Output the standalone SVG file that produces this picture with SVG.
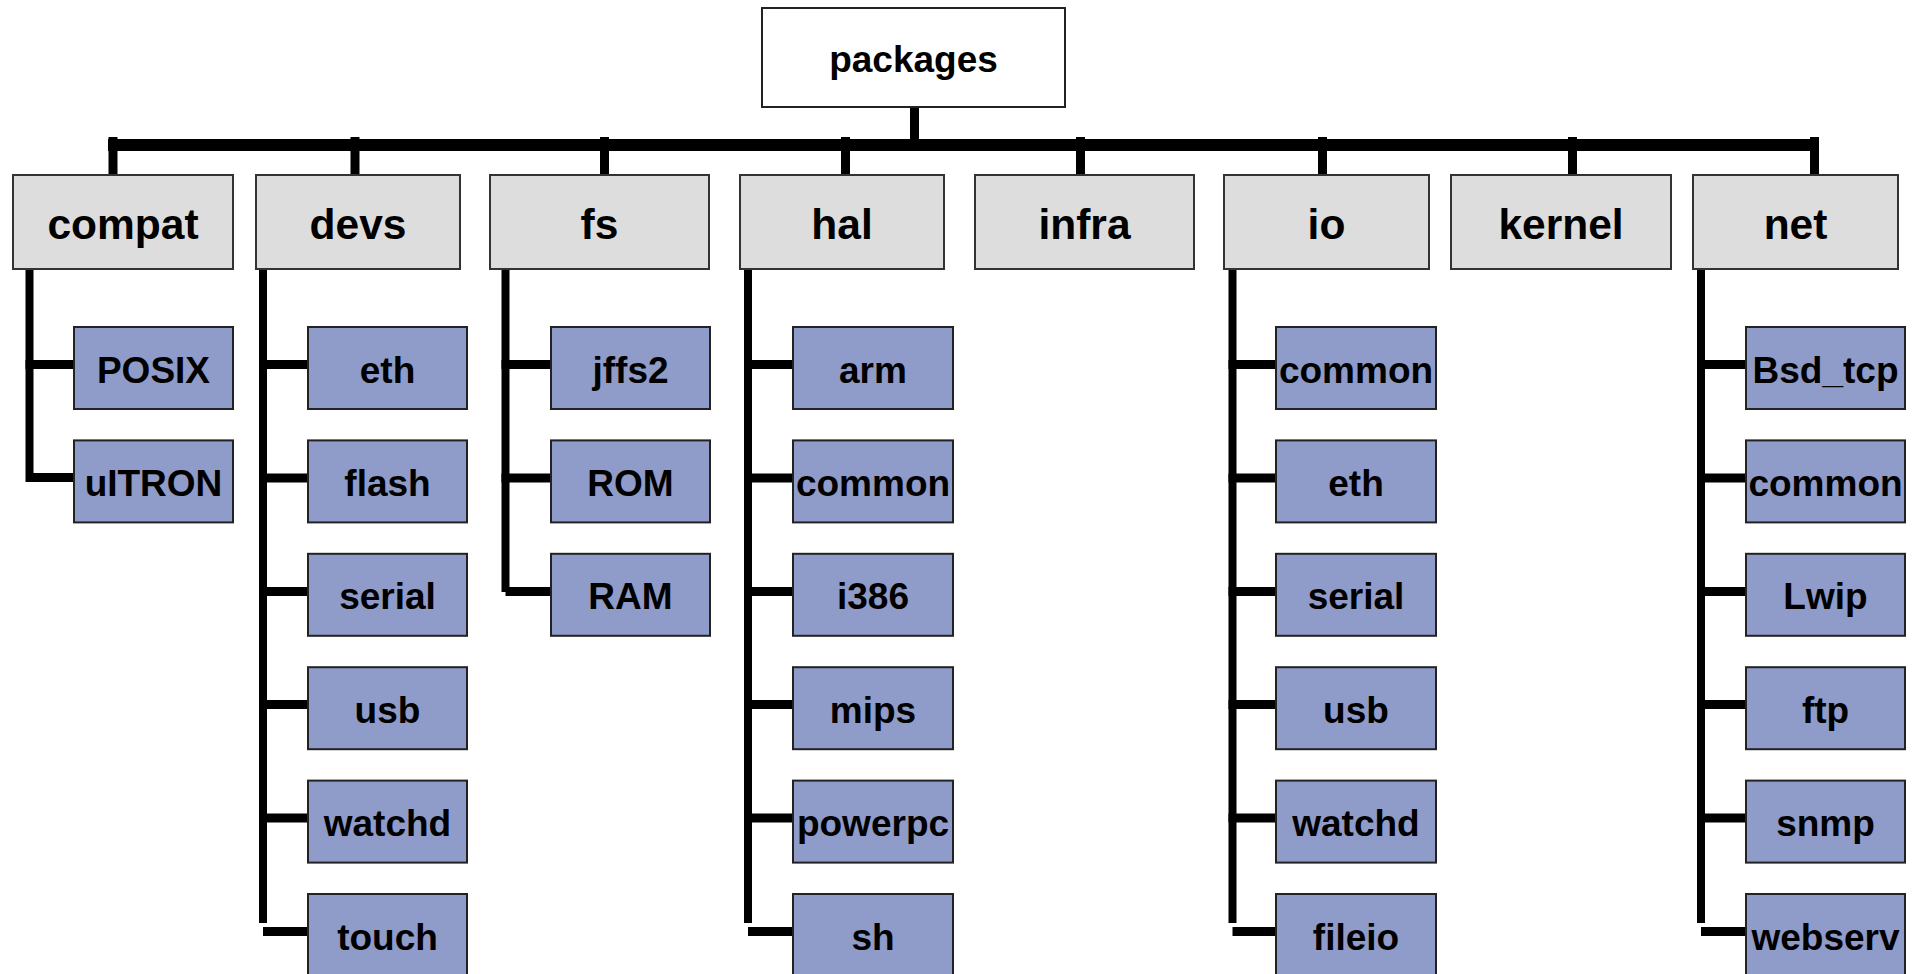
<svg xmlns="http://www.w3.org/2000/svg" width="1916" height="974" viewBox="0 0 1916 974">
  <style>
    text { font-family: "Liberation Sans", Arial, sans-serif; font-weight: bold; fill: #000; text-anchor: middle; }
    .root { fill: #ffffff; stroke: #222; stroke-width: 2; }
    .pkg { fill: #dddddd; stroke: #333; stroke-width: 2; }
    .sub { fill: #8f9bc8; stroke: #222; stroke-width: 2; }
    .lbl-root { font-size: 37px; }
    .lbl-pkg { font-size: 42.5px; }
    .lbl-sub { font-size: 37px; }
    .wire { fill: #000; }
  </style>

  <!-- connectors: bus, drops and branches -->
  <g id="connectors" class="wire">
    <!-- stem from root and horizontal bus -->
    <rect x="910" y="106" width="9" height="34"/>
    <rect x="108" y="139" width="1711" height="12"/>
    <!-- drops to top-level packages -->
    <rect x="108.5" y="137" width="9" height="38"/>
    <rect x="350.5" y="137" width="9" height="38"/>
    <rect x="600" y="137" width="9" height="38"/>
    <rect x="841" y="137" width="9" height="38"/>
    <rect x="1076" y="137" width="9" height="38"/>
    <rect x="1318" y="137" width="9" height="38"/>
    <rect x="1568" y="137" width="9" height="38"/>
    <rect x="1810" y="137" width="9" height="38"/>

    <!-- compat trunk + branches -->
    <rect x="25.5" y="266" width="8" height="216"/>
    <rect x="25.5" y="360" width="49" height="9"/>
    <rect x="29" y="473" width="45.5" height="9"/>

    <!-- devs trunk + branches -->
    <rect x="259" y="266" width="8" height="657"/>
    <rect x="259" y="360" width="49" height="9"/>
    <rect x="259" y="473.5" width="49" height="9"/>
    <rect x="259" y="587" width="49" height="9"/>
    <rect x="259" y="700" width="49" height="9"/>
    <rect x="259" y="813.5" width="49" height="9"/>
    <rect x="263" y="927" width="45" height="9"/>

    <!-- fs trunk + branches -->
    <rect x="501.5" y="266" width="8" height="326"/>
    <rect x="501.5" y="360" width="49.5" height="9"/>
    <rect x="501.5" y="473.5" width="49.5" height="9"/>
    <rect x="505.5" y="587" width="45.5" height="9"/>

    <!-- hal trunk + branches -->
    <rect x="744" y="266" width="8" height="657"/>
    <rect x="744" y="360" width="49" height="9"/>
    <rect x="744" y="473.5" width="49" height="9"/>
    <rect x="744" y="587" width="49" height="9"/>
    <rect x="744" y="700" width="49" height="9"/>
    <rect x="744" y="813.5" width="49" height="9"/>
    <rect x="748" y="927" width="45" height="9"/>

    <!-- io trunk + branches -->
    <rect x="1228.5" y="266" width="8" height="657"/>
    <rect x="1228.5" y="360" width="48" height="9"/>
    <rect x="1228.5" y="473.5" width="48" height="9"/>
    <rect x="1228.5" y="587" width="48" height="9"/>
    <rect x="1228.5" y="700" width="48" height="9"/>
    <rect x="1228.5" y="813.5" width="48" height="9"/>
    <rect x="1232.5" y="927" width="44" height="9"/>

    <!-- net trunk + branches -->
    <rect x="1697" y="266" width="8" height="657"/>
    <rect x="1697" y="360" width="49" height="9"/>
    <rect x="1697" y="473.5" width="49" height="9"/>
    <rect x="1697" y="587" width="49" height="9"/>
    <rect x="1697" y="700" width="49" height="9"/>
    <rect x="1697" y="813.5" width="49" height="9"/>
    <rect x="1701" y="927" width="45" height="9"/>
  </g>

  <!-- root -->
  <g id="packages">
    <rect class="root" x="762" y="8" width="303" height="99"/>
    <text class="lbl-root" x="913.5" y="71.5">packages</text>
  </g>

  <!-- top-level packages -->
  <g id="compat">
    <rect class="pkg" x="13" y="175" width="220" height="94"/>
    <text class="lbl-pkg" x="123" y="238.5">compat</text>
  </g>
  <g id="devs">
    <rect class="pkg" x="256" y="175" width="204" height="94"/>
    <text class="lbl-pkg" x="358" y="238.5">devs</text>
  </g>
  <g id="fs">
    <rect class="pkg" x="490" y="175" width="219" height="94"/>
    <text class="lbl-pkg" x="599.5" y="238.5">fs</text>
  </g>
  <g id="hal">
    <rect class="pkg" x="740" y="175" width="204" height="94"/>
    <text class="lbl-pkg" x="842" y="238.5">hal</text>
  </g>
  <g id="infra">
    <rect class="pkg" x="975" y="175" width="219" height="94"/>
    <text class="lbl-pkg" x="1084.5" y="238.5">infra</text>
  </g>
  <g id="io">
    <rect class="pkg" x="1224" y="175" width="205" height="94"/>
    <text class="lbl-pkg" x="1326.5" y="238.5">io</text>
  </g>
  <g id="kernel">
    <rect class="pkg" x="1451" y="175" width="220" height="94"/>
    <text class="lbl-pkg" x="1561" y="238.5">kernel</text>
  </g>
  <g id="net">
    <rect class="pkg" x="1693" y="175" width="205" height="94"/>
    <text class="lbl-pkg" x="1795.5" y="238.5">net</text>
  </g>

  <!-- compat children -->
  <g id="compat-posix">
    <rect class="sub" x="74" y="327" width="159" height="82"/>
    <text class="lbl-sub" x="153.5" y="382.5">POSIX</text>
  </g>
  <g id="compat-ultron">
    <rect class="sub" x="74" y="440.4" width="159" height="82"/>
    <text class="lbl-sub" x="153.5" y="495.9">uITRON</text>
  </g>

  <!-- devs children -->
  <g id="devs-eth">
    <rect class="sub" x="308" y="327" width="159" height="82"/>
    <text class="lbl-sub" x="387.5" y="382.5">eth</text>
  </g>
  <g id="devs-flash">
    <rect class="sub" x="308" y="440.4" width="159" height="82"/>
    <text class="lbl-sub" x="387.5" y="495.9">flash</text>
  </g>
  <g id="devs-serial">
    <rect class="sub" x="308" y="553.8" width="159" height="82"/>
    <text class="lbl-sub" x="387.5" y="609.3">serial</text>
  </g>
  <g id="devs-usb">
    <rect class="sub" x="308" y="667.2" width="159" height="82"/>
    <text class="lbl-sub" x="387.5" y="722.7">usb</text>
  </g>
  <g id="devs-watchd">
    <rect class="sub" x="308" y="780.6" width="159" height="82"/>
    <text class="lbl-sub" x="387.5" y="836.1">watchd</text>
  </g>
  <g id="devs-touch">
    <rect class="sub" x="308" y="894" width="159" height="82"/>
    <text class="lbl-sub" x="387.5" y="949.5">touch</text>
  </g>

  <!-- fs children -->
  <g id="fs-jffs2">
    <rect class="sub" x="551" y="327" width="159" height="82"/>
    <text class="lbl-sub" x="630.5" y="382.5">jffs2</text>
  </g>
  <g id="fs-rom">
    <rect class="sub" x="551" y="440.4" width="159" height="82"/>
    <text class="lbl-sub" x="630.5" y="495.9">ROM</text>
  </g>
  <g id="fs-ram">
    <rect class="sub" x="551" y="553.8" width="159" height="82"/>
    <text class="lbl-sub" x="630.5" y="609.3">RAM</text>
  </g>

  <!-- hal children -->
  <g id="hal-arm">
    <rect class="sub" x="793" y="327" width="160" height="82"/>
    <text class="lbl-sub" x="873" y="382.5">arm</text>
  </g>
  <g id="hal-common">
    <rect class="sub" x="793" y="440.4" width="160" height="82"/>
    <text class="lbl-sub" x="873" y="495.9">common</text>
  </g>
  <g id="hal-i386">
    <rect class="sub" x="793" y="553.8" width="160" height="82"/>
    <text class="lbl-sub" x="873" y="609.3">i386</text>
  </g>
  <g id="hal-mips">
    <rect class="sub" x="793" y="667.2" width="160" height="82"/>
    <text class="lbl-sub" x="873" y="722.7">mips</text>
  </g>
  <g id="hal-powerpc">
    <rect class="sub" x="793" y="780.6" width="160" height="82"/>
    <text class="lbl-sub" x="873" y="836.1">powerpc</text>
  </g>
  <g id="hal-sh">
    <rect class="sub" x="793" y="894" width="160" height="82"/>
    <text class="lbl-sub" x="873" y="949.5">sh</text>
  </g>

  <!-- io children -->
  <g id="io-common">
    <rect class="sub" x="1276" y="327" width="160" height="82"/>
    <text class="lbl-sub" x="1356" y="382.5">common</text>
  </g>
  <g id="io-eth">
    <rect class="sub" x="1276" y="440.4" width="160" height="82"/>
    <text class="lbl-sub" x="1356" y="495.9">eth</text>
  </g>
  <g id="io-serial">
    <rect class="sub" x="1276" y="553.8" width="160" height="82"/>
    <text class="lbl-sub" x="1356" y="609.3">serial</text>
  </g>
  <g id="io-usb">
    <rect class="sub" x="1276" y="667.2" width="160" height="82"/>
    <text class="lbl-sub" x="1356" y="722.7">usb</text>
  </g>
  <g id="io-watchd">
    <rect class="sub" x="1276" y="780.6" width="160" height="82"/>
    <text class="lbl-sub" x="1356" y="836.1">watchd</text>
  </g>
  <g id="io-fileio">
    <rect class="sub" x="1276" y="894" width="160" height="82"/>
    <text class="lbl-sub" x="1356" y="949.5">fileio</text>
  </g>

  <!-- net children -->
  <g id="net-bsd-tcp">
    <rect class="sub" x="1746" y="327" width="159" height="82"/>
    <text class="lbl-sub" x="1825.5" y="382.5">Bsd_tcp</text>
  </g>
  <g id="net-common">
    <rect class="sub" x="1746" y="440.4" width="159" height="82"/>
    <text class="lbl-sub" x="1825.5" y="495.9">common</text>
  </g>
  <g id="net-lwip">
    <rect class="sub" x="1746" y="553.8" width="159" height="82"/>
    <text class="lbl-sub" x="1825.5" y="609.3">Lwip</text>
  </g>
  <g id="net-ftp">
    <rect class="sub" x="1746" y="667.2" width="159" height="82"/>
    <text class="lbl-sub" x="1825.5" y="722.7">ftp</text>
  </g>
  <g id="net-snmp">
    <rect class="sub" x="1746" y="780.6" width="159" height="82"/>
    <text class="lbl-sub" x="1825.5" y="836.1">snmp</text>
  </g>
  <g id="net-webserv">
    <rect class="sub" x="1746" y="894" width="159" height="82"/>
    <text class="lbl-sub" x="1825.5" y="949.5">webserv</text>
  </g>
</svg>
